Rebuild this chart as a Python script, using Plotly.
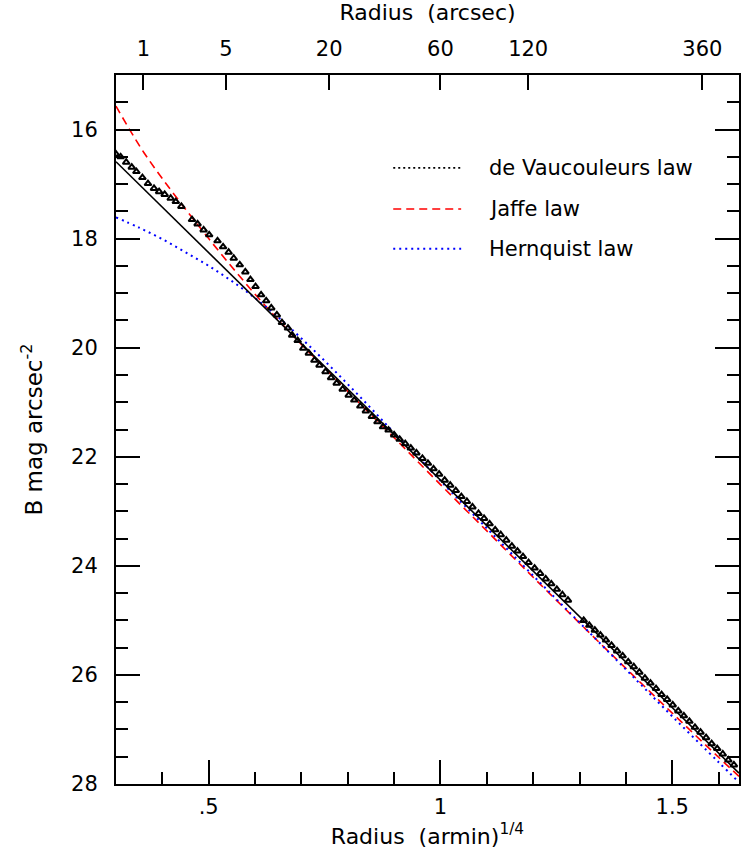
import plotly.graph_objects as go

# Observed surface-brightness profile: radius^(1/4) in arcmin^(1/4), B mag per arcsec^2
R14_OBS = [0.300, 0.310, 0.322, 0.334, 0.344, 0.357, 0.369, 0.382, 0.393, 0.405,
           0.418, 0.429, 0.441, 0.464, 0.476, 0.489, 0.501, 0.519, 0.531, 0.543,
           0.554, 0.567, 0.579, 0.590, 0.601, 0.613, 0.624, 0.635, 0.647, 0.658,
           0.671, 0.680, 0.692, 0.704, 0.716, 0.728, 0.739, 0.752, 0.764, 0.776,
           0.789, 0.802, 0.814, 0.827, 0.839, 0.852, 0.864, 0.876, 0.888,
           0.900, 0.912, 0.924, 0.936, 0.948, 0.961, 0.973, 0.985, 0.997, 1.009,
           1.021, 1.033, 1.045, 1.057, 1.069, 1.082, 1.094, 1.106, 1.118, 1.130,
           1.142, 1.154, 1.166, 1.178, 1.190, 1.203, 1.215, 1.227, 1.239, 1.251,
           1.263, 1.275,
           1.309, 1.321, 1.333, 1.345, 1.357, 1.369, 1.381, 1.393, 1.405, 1.417,
           1.429, 1.441, 1.453, 1.465, 1.477, 1.489, 1.501, 1.513, 1.525, 1.537,
           1.549, 1.561, 1.573, 1.585, 1.597, 1.609, 1.621, 1.633]
MU_OBS = [16.45, 16.50, 16.60, 16.69, 16.77, 16.88, 16.99, 17.08, 17.14, 17.19,
          17.26, 17.32, 17.41, 17.65, 17.73, 17.84, 17.93, 18.04, 18.15, 18.25,
          18.36, 18.48, 18.61, 18.75, 18.88, 19.03, 19.14, 19.27, 19.40, 19.54,
          19.64, 19.77, 19.87, 20.01, 20.10, 20.23, 20.32, 20.44, 20.55, 20.65,
          20.76, 20.87, 20.96, 21.07, 21.16, 21.26, 21.36, 21.45, 21.51,
          21.60, 21.68, 21.76, 21.84, 21.93, 22.03, 22.12, 22.22, 22.32, 22.43,
          22.52, 22.62, 22.73, 22.82, 22.92, 23.04, 23.13, 23.23, 23.34, 23.43,
          23.53, 23.64, 23.73, 23.83, 23.94, 24.04, 24.14, 24.24, 24.33, 24.43,
          24.53, 24.63,
          25.00, 25.09, 25.18, 25.27, 25.36, 25.46, 25.56, 25.65, 25.76, 25.85,
          25.95, 26.06, 26.15, 26.25, 26.36, 26.45, 26.55, 26.66, 26.75, 26.85,
          26.96, 27.05, 27.15, 27.26, 27.35, 27.45, 27.56, 27.65]

# de Vaucouleurs fit (a straight line in r^(1/4))
R14_DEV = [0.300, 1.644]
MU_DEV = [16.59, 27.80]

# Jaffe model profile
R14_JAFFE = [0.300, 0.330, 0.360, 0.400, 0.450, 0.500, 0.550, 0.600, 0.650, 0.700,
             0.750, 0.800, 0.850, 0.900, 1.000, 1.100, 1.200, 1.300, 1.400, 1.500,
             1.600, 1.644]
MU_JAFFE = [15.57, 16.01, 16.42, 16.90, 17.46, 18.00, 18.52, 19.02, 19.49, 19.94,
            20.37, 20.80, 21.23, 21.65, 22.51, 23.36, 24.21, 25.05, 25.88, 26.70,
            27.51, 27.86]

# Hernquist model profile
R14_HERN = [0.300, 0.350, 0.400, 0.450, 0.500, 0.550, 0.600, 0.650, 0.700, 0.750,
            0.800, 0.850, 0.900, 0.950, 1.000, 1.100, 1.200, 1.300, 1.400, 1.500,
            1.600, 1.644]
MU_HERN = [17.61, 17.80, 18.01, 18.25, 18.50, 18.78, 19.09, 19.44, 19.83, 20.24,
           20.67, 21.11, 21.56, 21.99, 22.44, 23.31, 24.18, 25.04, 25.90, 26.76,
           27.60, 27.97]

# Axis ticks
BOTTOM_TICKS = [0.5, 1.0, 1.5]
BOTTOM_LABELS = [".5", "1", "1.5"]
ARCSEC_TICKS = [1, 5, 20, 60, 120, 360]
LEGEND_NAMES = ["de Vaucouleurs law", "Jaffe law", "Hernquist law"]

X_RANGE = [0.3, 1.644]
Y_RANGE = [28, 15]
FONT = "DejaVu Sans"

fig = go.Figure()

fig.add_trace(go.Scatter(x=R14_JAFFE, y=MU_JAFFE, mode="lines",
                         line=dict(color="#ff0000", width=1.6, dash="8px,5px"),
                         line_shape="spline", hoverinfo="skip"))
fig.add_trace(go.Scatter(x=R14_HERN, y=MU_HERN, mode="lines",
                         line=dict(color="#0000ff", width=2, dash="2px,4px"),
                         line_shape="spline", hoverinfo="skip"))
fig.add_trace(go.Scatter(x=R14_DEV, y=MU_DEV, mode="lines",
                         line=dict(color="black", width=1.6), xaxis="x2"))
fig.add_trace(go.Scatter(x=R14_OBS, y=MU_OBS, mode="markers",
                         marker=dict(symbol="triangle-up-open", size=6, color="black",
                                     line=dict(width=2, color="black"))))

# top axis labels in arcsec, placed at (r / 60 arcsec)^(1/4)
arcsec_pos = [(a / 60.0) ** 0.25 for a in ARCSEC_TICKS]

axis_common = dict(showgrid=False, zeroline=False, showline=True, linecolor="black",
                   linewidth=2, ticks="inside", tickcolor="black", tickwidth=2,
                   tickfont=dict(family=FONT, size=21, color="black"))

fig.update_layout(
    width=742, height=862,
    margin=dict(l=116, r=1, t=75, b=78),
    paper_bgcolor="white", plot_bgcolor="white",
    showlegend=False,
    font=dict(family=FONT, color="black"),
    xaxis=dict(range=X_RANGE, tickmode="array", tickvals=BOTTOM_TICKS,
               ticktext=BOTTOM_LABELS, ticklen=24, mirror=False,
               minor=dict(ticks="inside", dtick=0.1, tick0=0, ticklen=12,
                          tickwidth=2, tickcolor="black"),
               title=dict(text="Radius&nbsp; (armin)<sup>1/4</sup>",
                          font=dict(family=FONT, size=22), standoff=10),
               ticklabelstandoff=3,
               **axis_common),
    xaxis2=dict(range=X_RANGE, overlaying="x", side="top", tickmode="array",
                tickvals=arcsec_pos, ticktext=[str(a) for a in ARCSEC_TICKS],
                ticklen=15,
                title=dict(text="Radius&nbsp; (arcsec)",
                           font=dict(family=FONT, size=22), standoff=14),
                ticklabelstandoff=9,
                **axis_common),
    yaxis=dict(range=Y_RANGE, tickmode="linear", tick0=16, dtick=2, ticklen=24,
               mirror="ticks",
               minor=dict(ticks="inside", dtick=0.5, tick0=0, ticklen=12,
                          tickwidth=2, tickcolor="black"),
               title=dict(text="B mag arcsec<sup>-2</sup>",
                          font=dict(family=FONT, size=23), standoff=22),
               ticklabelstandoff=12,
               **axis_common),
)

# key: line samples with labels
legend_styles = [dict(color="black", width=1.6, dash="2px,3px"),
                 dict(color="#ff0000", width=1.6, dash="8px,5px"),
                 dict(color="#0000ff", width=2, dash="2px,4px")]
legend_y = [0.869, 0.811, 0.755]
for name, style, yy in zip(LEGEND_NAMES, legend_styles, legend_y):
    fig.add_shape(type="line", xref="paper", yref="paper", x0=0.445, x1=0.554,
                  y0=yy, y1=yy, line=style)
    fig.add_annotation(xref="paper", yref="paper", x=0.595, y=yy, text=name,
                       showarrow=False, xanchor="left", yanchor="middle",
                       font=dict(family=FONT, size=21, color="black"))

fig.write_html("out.html")
